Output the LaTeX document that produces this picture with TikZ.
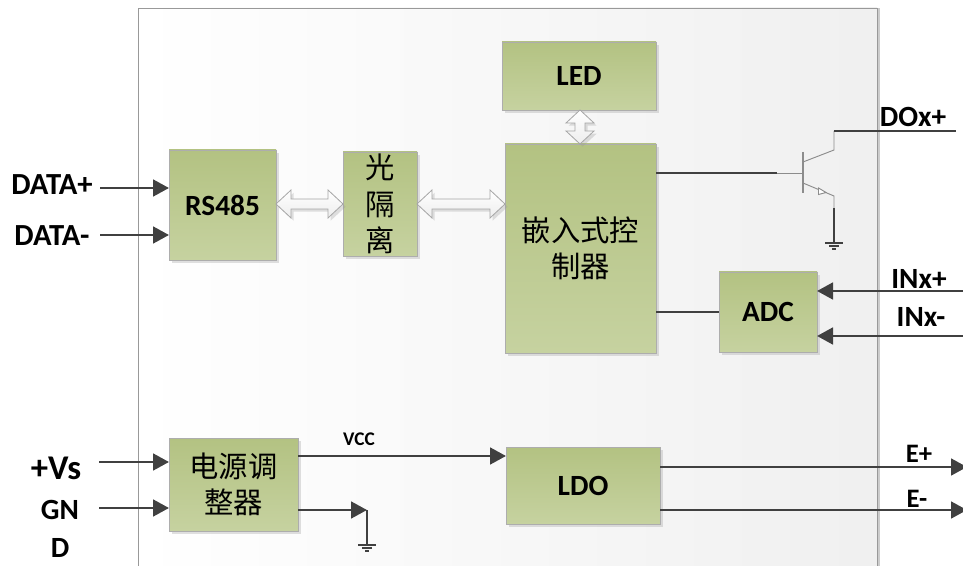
\documentclass[tikz,border=0pt]{standalone}
\usepackage{fontspec}
\setmainfont{Carlito}
\newfontfamily\cjk{Noto Sans CJK SC}
\usetikzlibrary{arrows.meta,calc,shadows}
\def\pxu{0.75pt}
\tikzset{
  x=0.75pt,y=-0.75pt,
  panelbox/.style={draw=none,left color=white,right color=black!6,inner sep=0,outer sep=0},
  blockbox/.style={draw=black!32,line width=0.6pt,top color=boxTop,bottom color=boxBot,inner sep=0,outer sep=0,align=center,
     drop shadow={shadow xshift=2pt,shadow yshift=-2pt,fill=black!35,opacity=.35}},
  blocklabel/.style={font=\bfseries\fontsize{22}{26}\selectfont},
  cjklabel/.style={font=\cjk\fontsize{22}{27.5}\selectfont},
  pinlabel/.style={font=\bfseries\fontsize{22}{28}\selectfont,inner sep=0,align=center},
  wire/.style={draw=wireCol,line width=2.1pt},
  thinwire/.style={draw=black!45,line width=0.7pt},
  sig/.style={wire,-{Triangle[length=12pt,width=12.5pt]}},
  gndline/.style={draw=wireCol,line width=0.9pt},
  hollowarrow/.style={draw=black!35,line width=0.6pt,top color=white,bottom color=black!7,
     drop shadow={shadow xshift=2pt,shadow yshift=-2pt,fill=black!40,opacity=.3}},
}
\definecolor{boxTop}{HTML}{B3C282}
\definecolor{boxBot}{HTML}{C6D2A0}
\definecolor{wireCol}{HTML}{404040}
% horizontal hollow double arrow between two named points
\newcommand\hollowH[2]{%
  \path[hollowarrow] (#1) -- ++(15,-14) -- ++(0,9) -- ($(#2)+(-15,-5)$) -- ++(0,-9) -- (#2)
     -- ++(-15,14) -- ++(0,-9) -- ($(#1)+(15,5)$) -- ++(0,9) -- cycle;}
% vertical hollow double arrow between two named points
\newcommand\hollowV[2]{%
  \path[hollowarrow] (#1) -- ++(14,13) -- ++(-9,0) -- ($(#2)+(5,-13)$) -- ++(9,0) -- (#2)
     -- ++(-14,-13) -- ++(9,0) -- ($(#1)+(-5,13)$) -- ++(-9,0) -- cycle;}
\begin{document}
\begin{tikzpicture}
\clip (0,0) rectangle (963,566);
% panel
\fill[black!20] (877,8) rectangle (880,580);
\node[panelbox,anchor=north west,minimum width=739*\pxu,minimum height=572*\pxu] (panel) at (138,8) {};
\draw[black!40,line width=0.7pt] (138,580) -- (138,8) -- (877,8) -- (877,580);
% blocks
\node[blockbox,blocklabel,minimum width=154*\pxu,minimum height=68*\pxu] (led) at (579,76) {LED};
\node[blockbox,cjklabel,minimum width=151*\pxu,minimum height=209*\pxu] (mcu) at (580.5,248.5) {嵌入式控\\制器};
\node[blockbox,blocklabel,minimum width=107*\pxu,minimum height=110*\pxu] (rs) at (222.5,205) {RS485};
\node[blockbox,cjklabel,minimum width=74*\pxu,minimum height=104*\pxu] (opto) at (380,204) {光\\隔\\离};
\node[blockbox,blocklabel,minimum width=98*\pxu,minimum height=80*\pxu] (adc) at (768,312) {ADC};
\node[blockbox,cjklabel,minimum width=129*\pxu,minimum height=93*\pxu] (pwr) at (233.5,484.5) {电源调\\整器};
\node[blockbox,blocklabel,minimum width=154*\pxu,minimum height=77*\pxu] (ldo) at (583,485.5) {LDO};
% hollow arrows
\coordinate (a1L) at (rs.east |- 0,204);
\coordinate (a1R) at (opto.west |- 0,204);
\coordinate (a2L) at (opto.east |- 0,204);
\coordinate (a2R) at (mcu.west |- 0,204);
\coordinate (a3T) at (led.south -| 580,0);
\coordinate (a3B) at (mcu.north -| 580,0);
\hollowH{a1L}{a1R}
\hollowH{a2L}{a2R}
\hollowV{a3T}{a3B}
% labels
\node[pinlabel,font=\bfseries\fontsize{23}{28}\selectfont] (ldp) at (52,185) {DATA+};
\node[pinlabel,font=\bfseries\fontsize{23}{28}\selectfont] (ldm) at (52,236) {DATA-};
\node[pinlabel,font=\bfseries\fontsize{26}{30}\selectfont] (lvs) at (56,468) {+Vs};
\node[pinlabel] (lgnd) at (60,529) {GN\\D};
\node[pinlabel] (ldo2) at (913,117) {DOx+};
\node[pinlabel] (linp) at (919,279) {INx+};
\node[pinlabel] (linm) at (921,317) {INx-};
\node[pinlabel,font=\bfseries\fontsize{20}{24}\selectfont] (lep) at (919,454) {E+};
\node[pinlabel,font=\bfseries\fontsize{20}{24}\selectfont] (lem) at (917,499) {E-};
\node[pinlabel,font=\bfseries\fontsize{14.5}{17}\selectfont] (lvcc) at (359,439) {VCC};
% free ends
\coordinate (dpS) at (100,188); \coordinate (dmS) at (100,235);
\coordinate (vsS) at (99,462); \coordinate (gndS) at (99,508);
\coordinate (inpS) at (963,291); \coordinate (inmS) at (963,336);
\coordinate (epE) at (967,467); \coordinate (emE) at (967,510);
% signal arrows
\draw[sig] (dpS) -- (dpS -| rs.west);
\draw[sig] (dmS) -- (dmS -| rs.west);
\draw[sig] (vsS) -- (vsS -| pwr.west);
\draw[sig] (gndS) -- (gndS -| pwr.west);
\draw[sig] (inpS) -- (inpS -| adc.east);
\draw[sig] (inmS) -- (inmS -| adc.east);
\coordinate (vccA) at (pwr.east |- 0,456);
\draw[sig] (vccA) -- (vccA -| ldo.west);
\coordinate (ldoP) at (ldo.east |- 0,467);
\coordinate (ldoM) at (ldo.east |- 0,510);
\draw[sig] (ldoP) -- (epE);
\draw[sig] (ldoM) -- (emE);
\coordinate (mcuAdc) at (mcu.east |- adc.west);
\draw[wire] (mcuAdc) -- (adc.west);
% power ground
\coordinate (pwrG) at (pwr.east |- 0,510);
\coordinate (g1) at (367,510);
\coordinate (g1b) at (367,545);
\draw[sig] (pwrG) -- (g1);
\draw[gndline,line width=1.2pt] (g1) -- (g1b);
\draw[gndline] ($(g1b)+(-9,0)$) -- ($(g1b)+(9,0)$);
\draw[gndline] ($(g1b)+(-5,3)$) -- ($(g1b)+(5,3)$);
\draw[gndline] ($(g1b)+(-2,6)$) -- ($(g1b)+(2,6)$);
% transistor
\coordinate (tb) at (803,173);
\coordinate (tw) at (777,173);
\coordinate (tc1) at (803,162);
\coordinate (tc2) at (834,150);
\coordinate (tc3) at (834,131);
\coordinate (te1) at (803,183);
\coordinate (te2) at (834,196);
\coordinate (te3) at (834,208);
\coordinate (g2) at (834,243);
\coordinate (doE) at (956,131);
\coordinate (mcuT) at (mcu.east |- tb);
\draw[wire] (mcuT) -- (tw);
\draw[thinwire] (tw) -- (tb);
\draw[thinwire,line width=0.9pt] (803,152) -- (803,193);
\draw[thinwire] (tc1) -- (tc2) -- (tc3);
\draw[wire] (tc3) -- (doE);
\draw[thinwire] (te1) -- (te2) -- (te3);
\draw[thinwire,fill=white] (826,192.5) -- (818.5,188) -- (818.5,194.5) -- cycle;
\draw[wire] (te3) -- (g2);
\draw[gndline] ($(g2)+(-9,0)$) -- ($(g2)+(9,0)$);
\draw[gndline] ($(g2)+(-5,3)$) -- ($(g2)+(5,3)$);
\draw[gndline] ($(g2)+(-2,6)$) -- ($(g2)+(2,6)$);
\end{tikzpicture}
\end{document}
